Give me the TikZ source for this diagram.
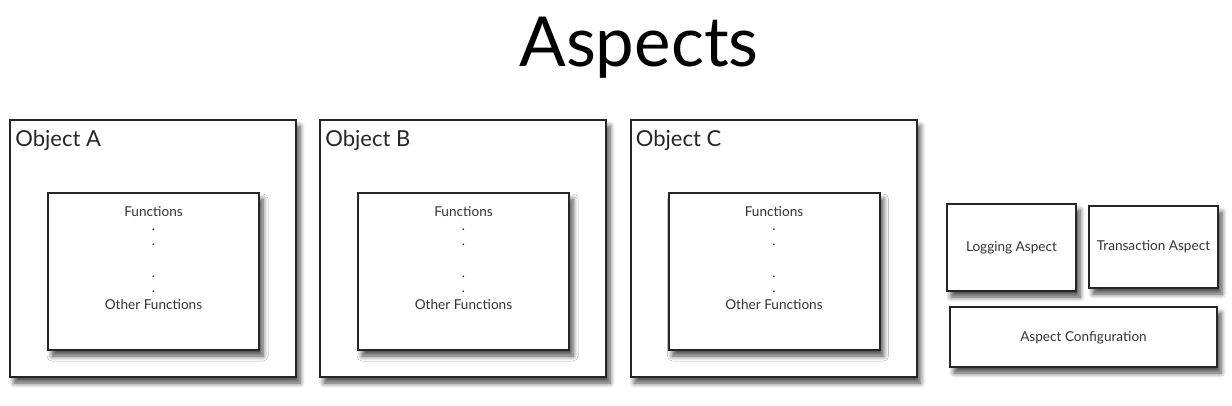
\documentclass[tikz,border=0pt]{standalone}
\usepackage{fontspec}
\setmainfont{Lato}
\usetikzlibrary{shadows.blur}

\begin{document}
\begin{tikzpicture}[x=0.5pt,y=-0.5pt,
    box/.style={draw=black!85,line width=1pt,fill=white,
      blur shadow={shadow xshift=2pt,shadow yshift=-3pt,shadow blur steps=6,shadow blur radius=2.5pt,shadow opacity=70}},
    small/.style={font=\fontsize{6.8}{8}\selectfont,text=black!80,inner sep=0pt},
    objtitle/.style={font=\fontsize{11}{13}\selectfont,text=black!85,inner sep=0pt,anchor=base west}]
    \useasboundingbox (0,0) rectangle (1232,406);
    % title
    \node[font=\fontsize{34.5}{38}\selectfont,anchor=base,inner sep=0pt] (title) at (639,67) {Aspects};
    % the three objects
    \foreach \dx/\name in {0/A,310/B,620.5/C}{
      \draw[box] (10+\dx,120) rectangle (296+\dx,377);
      \node[objtitle] (obj\name) at (15+\dx,147) {Object \name};
      \draw[box] (48+\dx,193) rectangle (259+\dx,350);
      \node[small] (fn\name) at (153.5+\dx,212) {Functions};
      \foreach \y/\k in {229/1,244/2,276/3,291/4}
        \node[small] (dot\name\k) at (153.5+\dx,\y+1) {.};
      \node[small] (other\name) at (153.5+\dx,305) {Other Functions};
    }
    % aspects
    \draw[box] (947,204) rectangle (1076,291);
    \node[small] (logging) at (1011.5,247.5) {Logging Aspect};
    \draw[box] (1089,206) rectangle (1218,288);
    \node[small] (transaction) at (1153.5,247) {Transaction Aspect};
    \draw[box] (950,307) rectangle (1217,367);
    \node[small] (config) at (1083.5,337.5) {Aspect Configuration};
\end{tikzpicture}
\end{document}
